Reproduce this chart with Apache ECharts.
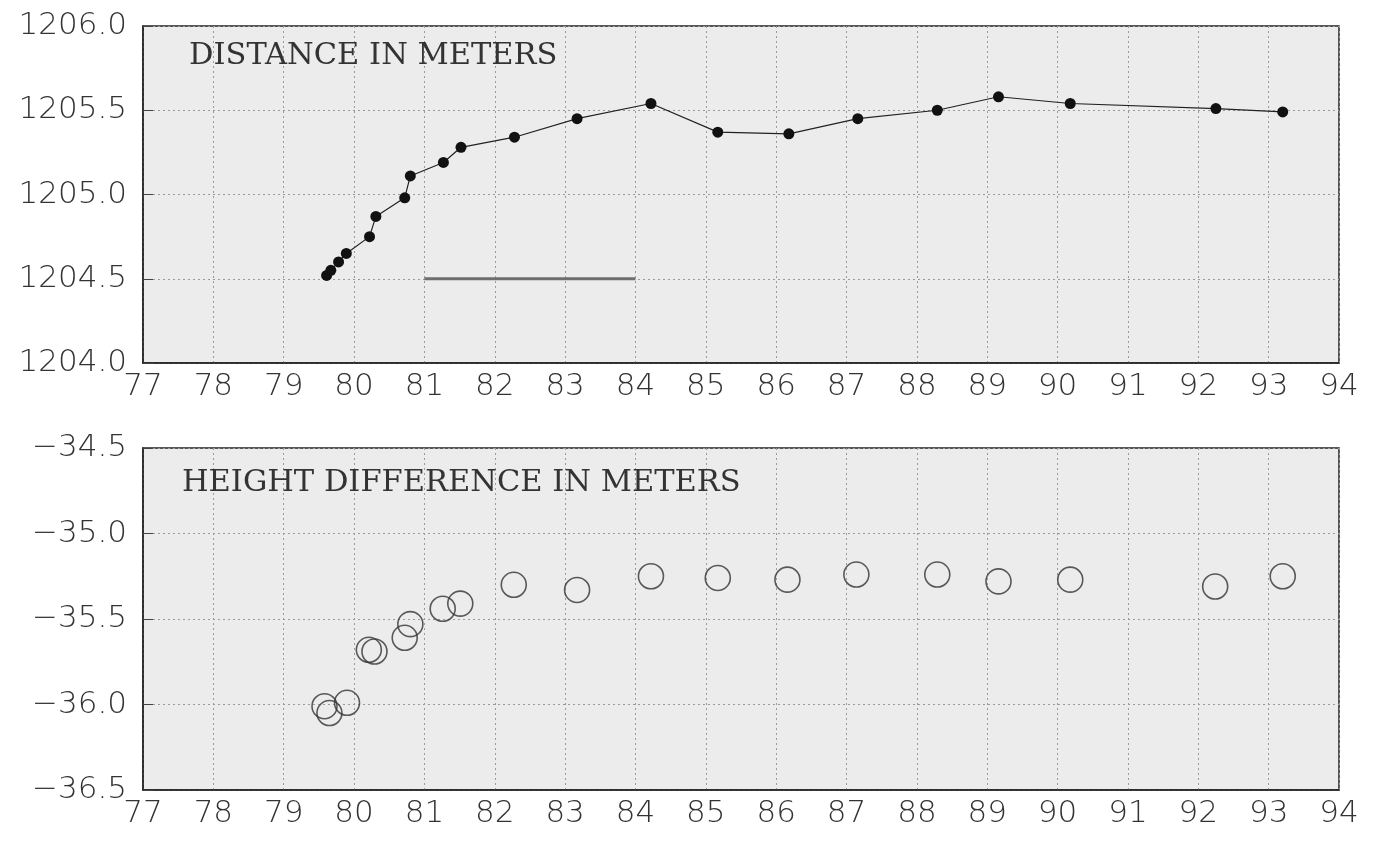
<!DOCTYPE html>
<html>
<head>
<meta charset="utf-8">
<script src="https://cdn.jsdelivr.net/npm/echarts@6/dist/echarts.min.js"></script>
<style>
html,body{margin:0;padding:0;background:#ffffff;}
#chart{width:1376px;height:844px;}
</style>
</head>
<body>
<div id="chart"></div>
<script>
// x-axis ticks (years)
const xTicks = [77,78,79,80,81,82,83,84,85,86,87,88,89,90,91,92,93,94];
// upper panel: distance in meters
const distX = [79.61,79.67,79.78,79.89,80.22,80.31,80.72,80.80,81.27,81.52,82.28,83.17,84.22,85.17,86.18,87.16,88.29,89.16,90.18,92.25,93.20];
const distY = [1204.52,1204.55,1204.60,1204.65,1204.75,1204.87,1204.98,1205.11,1205.19,1205.28,1205.34,1205.45,1205.54,1205.37,1205.36,1205.45,1205.50,1205.58,1205.54,1205.51,1205.49];
// reference segment in the upper panel
const segX = [81, 84];
const segY = [1204.5, 1204.5];
// lower panel: height difference in meters
const hgtX = [79.58,79.65,79.90,80.21,80.29,80.72,80.80,81.26,81.51,82.27,83.17,84.22,85.17,86.16,87.14,88.29,89.16,90.18,92.24,93.20];
const hgtY = [-36.01,-36.05,-35.99,-35.68,-35.69,-35.61,-35.53,-35.44,-35.41,-35.30,-35.33,-35.25,-35.26,-35.27,-35.24,-35.24,-35.28,-35.27,-35.31,-35.25];
// y tick labels
const distTicks = [1204.0,1204.5,1205.0,1205.5,1206.0];
const hgtTicks = [-36.5,-36.0,-35.5,-35.0,-34.5];

const chart = echarts.init(document.getElementById('chart'));
const zip = (a,b) => a.map((v,i) => [v,b[i]]);

const labelFont = {fontFamily:'DejaVu Sans', fontWeight:200, fontSize:31, color:'#333'};
const gridLine = {show:true, lineStyle:{type:[2,3], color:'#9a9a9a', width:1}};
const titleFont = {fontFamily:'DejaVu Serif', fontWeight:'normal', fontSize:30.5, color:'#333'};

function xAxis(idx){
  return {
    type:'value', gridIndex:idx, min:xTicks[0], max:xTicks[xTicks.length-1], interval:1,
    axisLine:{show:true, lineStyle:{color:'#222', width:1.5}},
    axisTick:{show:false},
    axisLabel:Object.assign({margin:8}, labelFont),
    splitLine:gridLine
  };
}
function yAxis(idx, ticks, fmt){
  return {
    type:'value', gridIndex:idx, min:ticks[0], max:ticks[ticks.length-1], interval:0.5,
    axisLine:{show:true, lineStyle:{color:'#222', width:1.5}},
    axisTick:{show:true, inside:true, length:10, lineStyle:{color:'#444'}},
    axisLabel:Object.assign({margin:16, formatter:fmt}, labelFont),
    splitLine:gridLine
  };
}

chart.setOption({
  animation:false,
  backgroundColor:'#ffffff',
  title:[
    {text:'DISTANCE IN METERS', left:184, top:36, textStyle:titleFont},
    {text:'HEIGHT DIFFERENCE IN METERS', left:177, top:463, textStyle:titleFont}
  ],
  grid:[
    {left:143, right:37, top:26, height:337, show:true, backgroundColor:'#ececec', borderColor:'#222', borderWidth:1.5},
    {left:143, right:37, top:448, height:342, show:true, backgroundColor:'#ececec', borderColor:'#222', borderWidth:1.5}
  ],
  xAxis:[xAxis(0), xAxis(1)],
  yAxis:[
    yAxis(0, distTicks, v => v.toFixed(1)),
    yAxis(1, hgtTicks, v => (v<0?'\u2212':'') + Math.abs(v).toFixed(1))
  ],
  series:[
    {type:'line', xAxisIndex:0, yAxisIndex:0, data:zip(segX,segY), symbol:'none',
     lineStyle:{color:'#6e6e6e', width:3}, silent:true},
    {type:'line', xAxisIndex:0, yAxisIndex:0, data:zip(distX,distY),
     symbol:'circle', symbolSize:11, itemStyle:{color:'#111'},
     lineStyle:{color:'#222', width:1.2}},
    {type:'scatter', xAxisIndex:1, yAxisIndex:1, data:zip(hgtX,hgtY),
     symbol:'circle', symbolSize:25,
     itemStyle:{color:'rgba(0,0,0,0)', borderColor:'#333', borderWidth:1.6}}
  ]
});
</script>
</body>
</html>
